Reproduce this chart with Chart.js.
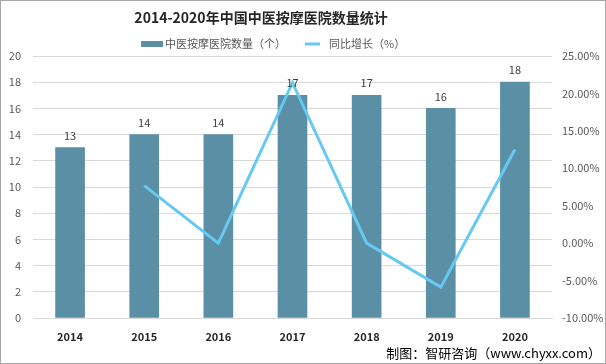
<!DOCTYPE html>
<html>
<head>
<meta charset="utf-8">
<script src="https://cdn.jsdelivr.net/npm/chart.js@4.4.1/dist/chart.umd.min.js"></script>
<style>
  html, body { margin: 0; padding: 0; background: #fff; }
  #wrap { position: relative; width: 606px; height: 364px; box-sizing: border-box; border: 1px solid #a6a6a6; }
  #chart { position: absolute; left: 0; top: 0; }
  #source { position: absolute; right: 4px; top: 342px; font: 13px "Noto Sans CJK SC", sans-serif; color: #000; }
</style>
</head>
<body>
<div id="wrap">
  <canvas id="chart" width="604" height="362"></canvas>
  <div id="source">制图：智研咨询（www.chyxx.com）</div>
</div>
<script>
// chart data
const years = ['2014', '2015', '2016', '2017', '2018', '2019', '2020'];
const hospitals = [13, 14, 14, 17, 17, 16, 18];
const growth = [null, 7.69, 0, 21.43, 0, -5.88, 12.5];
const titleText = '2014-2020年中国中医按摩医院数量统计';
const barLabel = '中医按摩医院数量（个）';
const lineLabel = '同比增长（%）';

const barColor = '#5b8fa6';
const lineColor = '#66c9f2';
const cjk = '"Noto Sans CJK SC", "Liberation Sans", sans-serif';

// title, legend and bar value labels drawn on the canvas
const decor = {
  id: 'decor',
  afterDatasetsDraw(chart) {
    const ctx = chart.ctx;
    ctx.save();
    ctx.fillStyle = '#262626';
    ctx.font = 'bold 14px ' + cjk;
    ctx.textAlign = 'center';
    ctx.textBaseline = 'middle';
    ctx.fillText(titleText, 260, 17);

    // legend
    ctx.font = '11px ' + cjk;
    ctx.textAlign = 'left';
    ctx.fillStyle = barColor;
    ctx.fillRect(140, 40, 22, 6);
    ctx.fillStyle = '#595959';
    ctx.fillText(chart.data.datasets[0].label, 164, 43);
    ctx.strokeStyle = lineColor;
    ctx.lineWidth = 3;
    ctx.beginPath();
    ctx.moveTo(304, 43);
    ctx.lineTo(319, 43);
    ctx.stroke();
    ctx.fillText(chart.data.datasets[1].label, 328, 43);

    // values above bars
    const meta = chart.getDatasetMeta(0);
    ctx.font = '11px ' + cjk;
    ctx.textAlign = 'center';
    ctx.fillStyle = '#404040';
    meta.data.forEach((bar, i) => {
      ctx.fillText(String(hospitals[i]), bar.x, bar.y - 12);
    });
    ctx.restore();
  }
};

new Chart(document.getElementById('chart'), {
  data: {
    labels: years,
    datasets: [
      {
        type: 'bar',
        label: barLabel,
        data: hospitals,
        yAxisID: 'y',
        backgroundColor: barColor,
        barThickness: 29,
        order: 1
      },
      {
        type: 'line',
        label: lineLabel,
        data: growth,
        yAxisID: 'y1',
        borderColor: lineColor,
        backgroundColor: lineColor,
        borderWidth: 3,
        pointRadius: 0,
        tension: 0,
        order: 0
      }
    ]
  },
  options: {
    responsive: false,
    animation: false,
    layout: { padding: { top: 55, bottom: 0, left: 0, right: 0 } },
    plugins: {
      legend: { display: false },
      title: { display: false },
      tooltip: { enabled: false }
    },
    scales: {
      x: {
        grid: { display: false },
        border: { color: '#d9d9d9' },
        ticks: { color: '#262626', font: { size: 11, weight: 'bold', family: cjk }, padding: 4 },
        afterFit: s => { s.height = 45; }
      },
      y: {
        position: 'left',
        min: 0, max: 20,
        ticks: { stepSize: 2, color: '#595959', font: { size: 11, family: cjk }, padding: 12 },
        grid: { color: '#d9d9d9', drawTicks: false },
        border: { display: false },
        afterFit: s => { s.width = 32; }
      },
      y1: {
        position: 'right',
        min: -10, max: 25,
        ticks: {
          stepSize: 5, color: '#595959', font: { size: 11, family: cjk }, padding: 10,
          callback: v => v.toFixed(2) + '%'
        },
        grid: { display: false, drawTicks: false },
        border: { display: false },
        afterFit: s => { s.width = 53; }
      }
    }
  },
  plugins: [decor]
});
</script>
</body>
</html>
